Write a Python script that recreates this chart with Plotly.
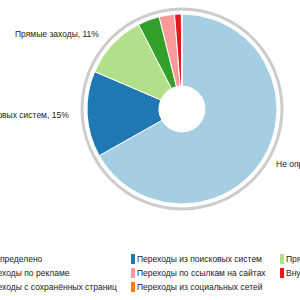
import math
import plotly.graph_objects as go

# ---- data ----
categories = [
    "Не определено",
    "Переходы из поисковых систем",
    "Прямые заходы",
    "Переходы по рекламе",
    "Переходы по ссылкам на сайтах",
    "Внутренние переходы",
    "Переходы с сохранённых страниц",
    "Переходы из социальных сетей",
]
values = [66.8, 14.6, 11.0, 3.7, 2.6, 1.15, 0.05, 0.05]
colors = ["#a6cee3", "#1f78b4", "#b2df8a", "#33a02c",
          "#fb9a99", "#e31a1c", "#fdbf6f", "#ff7f00"]

# ---- layout constants (pixels) ----
W = H = 300
CX, CY = 182, 109      # pie centre
R = 95                 # pie radius
HOLE = 23              # hole radius
RING_IN, RING_OUT = 98.5, 101.5
LABEL_R = 110
FONT = "Liberation Sans, Arial, sans-serif"
FSIZE = 8.5
TXT = "#222222"

def px(x):
    return x / W

def py(y):
    return 1 - y / H

fig = go.Figure()

# grey outer ring
fig.add_trace(go.Pie(
    values=[1], labels=["ring"], sort=False, hole=RING_IN / RING_OUT,
    marker=dict(colors=["#cccccc"], line=dict(width=0)),
    textinfo="none", hoverinfo="skip", showlegend=False,
    domain=dict(x=[px(CX - RING_OUT), px(CX + RING_OUT)],
                y=[py(CY + RING_OUT), py(CY - RING_OUT)]),
))

# main donut
fig.add_trace(go.Pie(
    values=values, labels=categories, sort=False, direction="clockwise",
    rotation=0, hole=HOLE / R,
    marker=dict(colors=colors, line=dict(color="white", width=1)),
    textinfo="none", showlegend=False,
    domain=dict(x=[px(CX - R), px(CX + R)], y=[py(CY + R), py(CY - R)]),
))

# outside labels for large slices
total = sum(values)
annotations = []
cum = 0.0
for name, v in zip(categories, values):
    mid = (cum + v / 2) / total * 2 * math.pi
    cum += v
    pct = round(v / total * 100)
    if pct < 10:
        continue
    right = math.sin(mid) > 0
    lx = CX + LABEL_R * math.sin(mid) + (-3 if right else -1)
    ly = CY - LABEL_R * math.cos(mid)
    annotations.append(dict(
        x=px(lx), y=py(ly), xref="paper", yref="paper",
        text=f"{name}, {pct}%", showarrow=False,
        xanchor="left" if right else "right", yanchor="middle",
        font=dict(family=FONT, size=FSIZE, color=TXT),
    ))

# legend (3 columns)
COL_X = [-24, 131, 280]
ROW_Y0, ROW_STEP = 259, 14
shapes = []
for i, (name, c) in enumerate(zip(categories, colors)):
    col, row = i % 3, i // 3
    mx = COL_X[col]
    my = ROW_Y0 + row * ROW_STEP
    shapes.append(dict(type="rect", xref="paper", yref="paper",
                       x0=px(mx), x1=px(mx + 4), y0=py(my + 5), y1=py(my - 5),
                       fillcolor=c, line=dict(width=0)))
    annotations.append(dict(
        x=px(mx + 4), y=py(my), xref="paper", yref="paper", text=name,
        showarrow=False, xanchor="left", yanchor="middle",
        font=dict(family=FONT, size=FSIZE, color=TXT),
    ))

fig.update_layout(
    width=W, height=H, margin=dict(l=0, r=0, t=0, b=0, autoexpand=False),
    paper_bgcolor="white", plot_bgcolor="white",
    annotations=annotations, shapes=shapes, showlegend=False,
)

fig.write_html("out.html")
